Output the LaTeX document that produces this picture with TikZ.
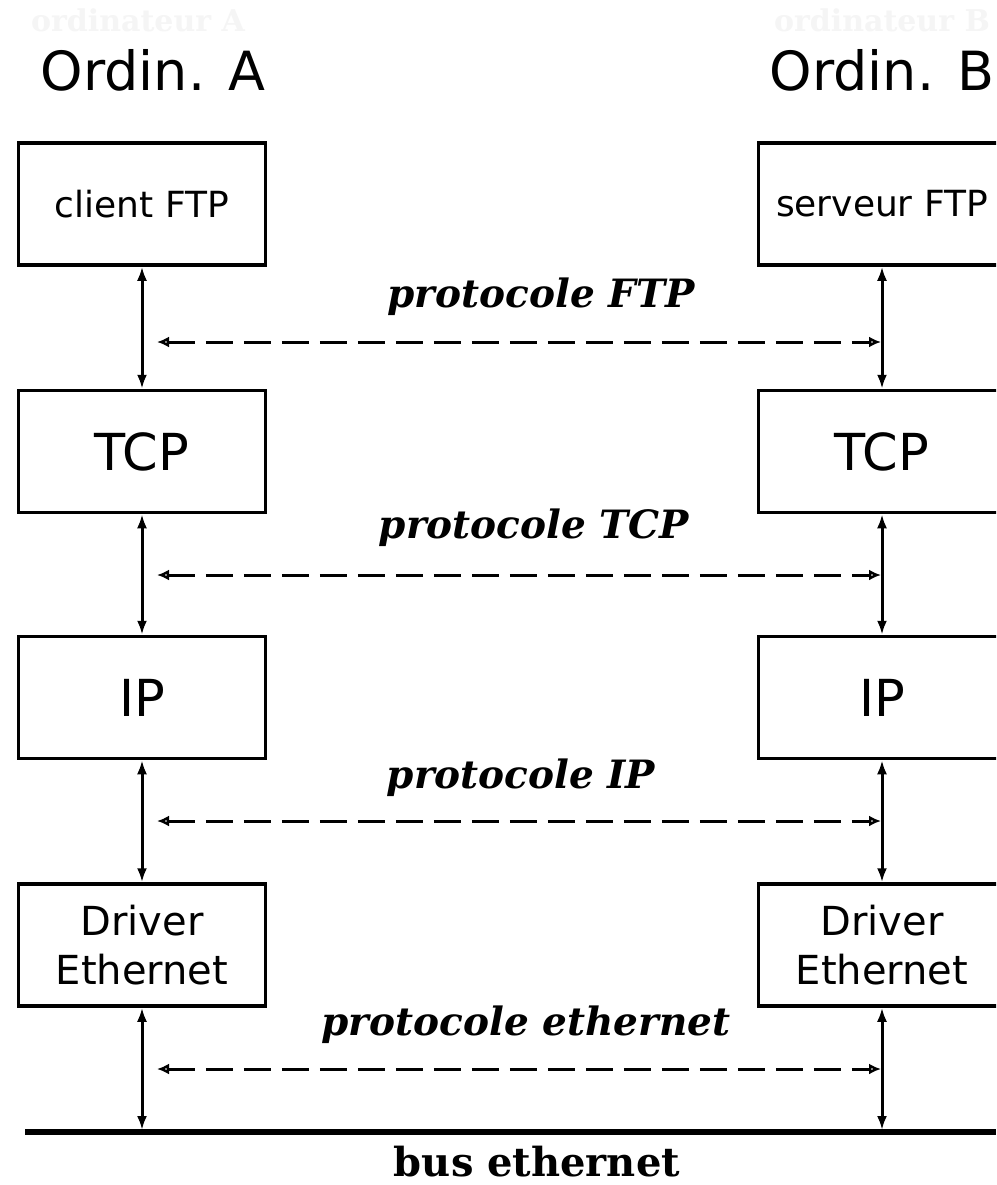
\documentclass[tikz,border=0pt]{standalone}
\usepackage{fontspec}
\setmainfont{DejaVu Sans}
\newfontfamily\protofont{DejaVu Serif}
\usetikzlibrary{arrows.meta}
\begin{document}
\begin{tikzpicture}[x=1pt,y=-1pt,
  box/.style={draw,line width=3.5pt,minimum width=247pt,minimum height=122pt,inner sep=0pt,align=center,font=\fontsize{36}{40}\selectfont},
  big/.style={font=\fontsize{51}{56}\selectfont},
  drv/.style={font=\fontsize{40}{49}\selectfont},
  head/.style={font=\fontsize{54}{60}\selectfont,anchor=base,inner sep=0pt},
  ghost/.style={font=\protofont\bfseries\fontsize{30}{34}\selectfont,anchor=base,inner sep=0pt,text=black!4},
  link/.style={line width=3pt,{Latex[length=14pt,width=10pt]}-{Latex[length=14pt,width=10pt]}},
  proto/.style={line width=3pt,dash pattern=on 27pt off 11pt,{Latex[open,length=12pt,width=11pt]}-{Latex[open,length=12pt,width=11pt]}},
  plabel/.style={font=\protofont\bfseries\itshape\fontsize{39}{44}\selectfont,anchor=base,inner sep=0pt},
]
\clip (0,0) rectangle (996,1185);
\fill[white] (0,0) rectangle (996,1185);

\node[ghost] (ga) at (138,32) {ordinateur A};
\node[ghost] (gb) at (882,32) {ordinateur B};
\node[head] (ha) at (153,91) {Ordin. A};
\node[head] (hb) at (882,91) {Ordin. B};

\node[box] (a1) at (142,204) {client FTP};
\node[box] (b1) at (882,204) {serveur FTP};
\node[box,big] (a2) at (142,451.5) {TCP};
\node[box,big] (b2) at (882,451.5) {TCP};
\node[box,big] (a3) at (142,697.5) {IP};
\node[box,big] (b3) at (882,697.5) {IP};
\node[box,drv] (a4) at (142,945) {Driver\\Ethernet};
\node[box,drv] (b4) at (882,945) {Driver\\Ethernet};

\coordinate (busL) at (25,1132);
\coordinate (busR) at (996,1132);
\coordinate (busA) at (142,1130);
\coordinate (busB) at (882,1130);
\draw[line width=5.5pt] (busL) -- (busR);

\draw[link] (a1) -- (a2);
\draw[link] (a2) -- (a3);
\draw[link] (a3) -- (a4);
\draw[link] (a4) -- (busA);
\draw[link] (b1) -- (b2);
\draw[link] (b2) -- (b3);
\draw[link] (b3) -- (b4);
\draw[link] (b4) -- (busB);

\coordinate (f1) at (157,342);  \coordinate (f2) at (881,342);
\coordinate (t1) at (157,575);  \coordinate (t2) at (881,575);
\coordinate (i1) at (157,821);  \coordinate (i2) at (881,821);
\coordinate (e1) at (157,1069); \coordinate (e2) at (881,1069);
\draw[proto] (f1) -- (f2);
\draw[proto] (t1) -- (t2);
\draw[proto] (i1) -- (i2);
\draw[proto] (e1) -- (e2);

\node[plabel] (lf) at (541,307) {protocole FTP};
\node[plabel] (lt) at (534,538) {protocole TCP};
\node[plabel] (li) at (521,788) {protocole IP};
\node[plabel] (le) at (526,1035) {protocole ethernet};

\node[font=\protofont\bfseries\fontsize{40}{44}\selectfont,anchor=base,inner sep=0pt] (bus) at (537,1176) {bus ethernet};
\end{tikzpicture}
\end{document}
